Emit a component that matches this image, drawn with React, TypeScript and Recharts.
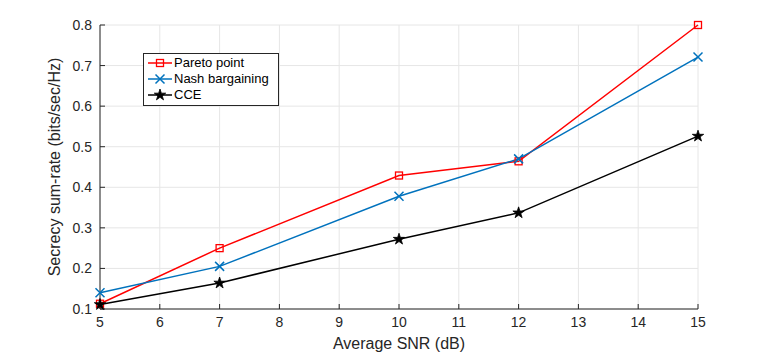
import React from 'react';
import { LineChart, Line, XAxis, YAxis, CartesianGrid, Legend } from 'recharts';

const snr = [5, 7, 10, 12, 15];
const paretoPoint = [0.113, 0.25, 0.429, 0.464, 0.8];
const nashBargaining = [0.14, 0.205, 0.378, 0.47, 0.721];
const cceRate = [0.111, 0.164, 0.272, 0.337, 0.526];
const xTicks = [5, 6, 7, 8, 9, 10, 11, 12, 13, 14, 15];
const yTicks = [0.1, 0.2, 0.3, 0.4, 0.5, 0.6, 0.7, 0.8];
const legendOrder = ['pareto', 'nash', 'cce'];

const data = snr.map((x, i) => ({
  snr: x,
  pareto: paretoPoint[i],
  nash: nashBargaining[i],
  cce: cceRate[i],
}));

const FONT = '"Liberation Sans", Arial, Helvetica, sans-serif';
const AXIS = '#262626';
const RED = '#ff0000';
const BLUE = '#0072bd';
const BLACK = '#000000';

function starPath(cx: number, cy: number, R: number) {
  const r = R * 0.382;
  let d = '';
  for (let i = 0; i < 10; i++) {
    const rad = i % 2 === 0 ? R : r;
    const a = -Math.PI / 2 + (i * Math.PI) / 5;
    const px = cx + rad * Math.cos(a);
    const py = cy + rad * Math.sin(a);
    d += (i === 0 ? 'M' : 'L') + px.toFixed(2) + ',' + py.toFixed(2);
  }
  return d + 'Z';
}

const SquareMark = ({ cx, cy, color }: any) => (
  <rect x={cx - 3.5} y={cy - 3.5} width={7} height={7} fill="none" stroke={color} strokeWidth={1.3} />
);
const CrossMark = ({ cx, cy, color }: any) => (
  <path d={`M${cx - 4.5},${cy - 4.5}L${cx + 4.5},${cy + 4.5}M${cx - 4.5},${cy + 4.5}L${cx + 4.5},${cy - 4.5}`} stroke={color} strokeWidth={1.5} fill="none" />
);
const StarMark = ({ cx, cy, color }: any) => (
  <path d={starPath(cx, cy, 6)} fill={color} stroke={color} strokeWidth={0.8} />
);

const markers: Record<string, any> = { pareto: SquareMark, nash: CrossMark, cce: StarMark };

const dotFor = (key: string, color: string) => (p: any) => {
  const M = markers[key];
  return (
    <g key={`${key}-${p.index}`}>
      <M cx={p.cx} cy={p.cy} color={color} />
    </g>
  );
};

const renderLegend = (props: any) => {
  const payload = [...(props.payload || [])].sort(
    (a: any, b: any) => legendOrder.indexOf(a.dataKey) - legendOrder.indexOf(b.dataKey)
  );
  return (
    <div
      style={{
        border: '1px solid #262626',
        background: '#fff',
        width: 134,
        height: 50,
        paddingTop: 1,
        boxSizing: 'content-box',
        fontFamily: FONT,
        fontSize: 13,
        color: '#000',
      }}
    >
      {payload.map((entry: any) => {
        const M = markers[entry.dataKey];
        return (
          <div key={entry.dataKey} style={{ display: 'flex', alignItems: 'center', height: 16 }}>
            <svg width={30} height={16} style={{ flex: 'none' }}>
              <line x1={4} y1={8} x2={28} y2={8} stroke={entry.color} strokeWidth={1.5} />
              <M cx={16} cy={8} color={entry.color} />
            </svg>
            <span style={{ whiteSpace: 'nowrap', lineHeight: '16px' }}>{entry.value}</span>
          </div>
        );
      })}
    </div>
  );
};

export default function App() {
  return (
    <div style={{ position: 'absolute', left: 0, top: 0, width: 772, height: 352, background: '#fff' }}>
      <LineChart width={772} height={352} data={data} margin={{ top: 25, right: 74, bottom: 0, left: 0 }}>
        <CartesianGrid xAxisId="b" yAxisId="l" stroke="#e6e6e6" strokeWidth={1} />
        <XAxis
          xAxisId="b"
          dataKey="snr"
          type="number"
          domain={[5, 15]}
          ticks={xTicks}
          interval={0}
          height={43}
          stroke={AXIS}
          tickSize={-5}
          tickMargin={13}
          tick={{ fill: AXIS, fontSize: 14, fontFamily: FONT }}
          label={{ value: 'Average SNR (dB)', position: 'insideBottom', offset: 3, fill: AXIS, fontSize: 16, fontFamily: FONT }}
        />
        <XAxis
          xAxisId="t"
          orientation="top"
          type="number"
          domain={[5, 15]}
          ticks={xTicks}
          interval={0}
          height={0}
          stroke={AXIS}
          tickSize={-5}
          tick={false}
        />
        <YAxis
          yAxisId="l"
          type="number"
          domain={[0.1, 0.8]}
          ticks={yTicks}
          interval={0}
          width={100}
          stroke={AXIS}
          tickSize={-5}
          tickMargin={13}
          tickFormatter={(v: number) => v.toFixed(1)}
          tick={{ fill: AXIS, fontSize: 14, fontFamily: FONT }}
          label={{
            value: 'Secrecy sum-rate (bits/sec/Hz)',
            angle: -90,
            position: 'insideLeft',
            offset: 54,
            fill: AXIS,
            fontSize: 16,
            fontFamily: FONT,
            style: { textAnchor: 'middle' },
          }}
        />
        <YAxis
          yAxisId="r"
          orientation="right"
          type="number"
          domain={[0.1, 0.8]}
          ticks={yTicks}
          interval={0}
          width={0}
          stroke={AXIS}
          tickSize={-5}
          tick={false}
        />
        <Legend
          layout="vertical"
          align="center"
          verticalAlign="middle"
          content={renderLegend}
          wrapperStyle={{ left: 143, top: 53, width: 136 }}
        />
        <Line xAxisId="b" yAxisId="l" type="linear" dataKey="pareto" name="Pareto point" stroke={RED} strokeWidth={1.5} dot={dotFor('pareto', RED)} activeDot={false} isAnimationActive={false} />
        <Line xAxisId="b" yAxisId="l" type="linear" dataKey="nash" name="Nash bargaining" stroke={BLUE} strokeWidth={1.5} dot={dotFor('nash', BLUE)} activeDot={false} isAnimationActive={false} />
        <Line xAxisId="b" yAxisId="l" type="linear" dataKey="cce" name="CCE" stroke={BLACK} strokeWidth={1.5} dot={dotFor('cce', BLACK)} activeDot={false} isAnimationActive={false} />
      </LineChart>
    </div>
  );
}
